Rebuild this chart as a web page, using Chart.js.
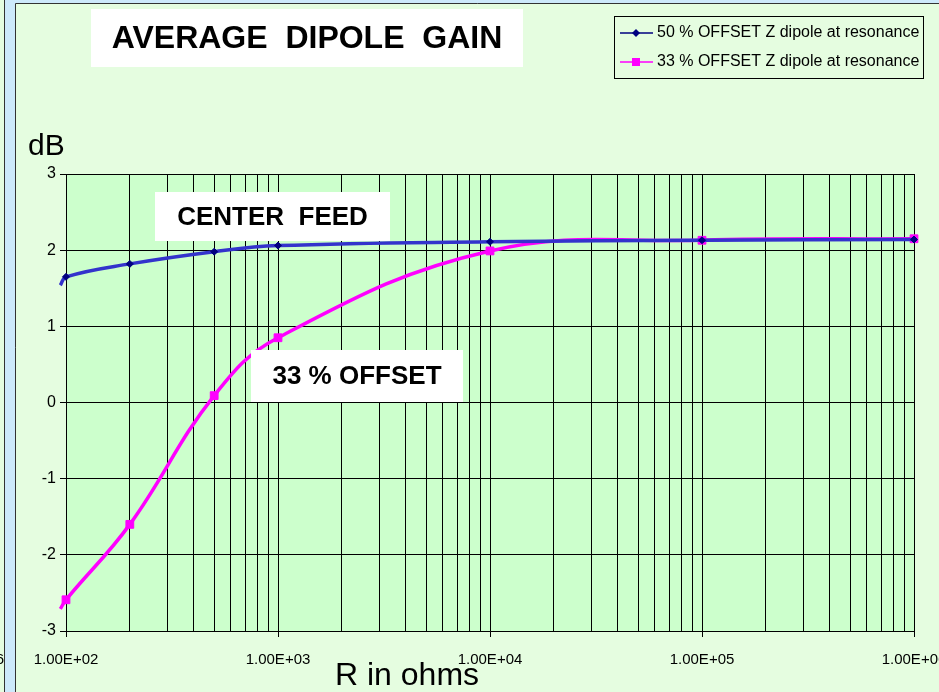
<!DOCTYPE html>
<html>
<head>
<meta charset="utf-8">
<script src="https://cdn.jsdelivr.net/npm/chart.js@4.4.1/dist/chart.umd.min.js"></script>
<style>
    html, body { margin: 0; padding: 0; background: #cde9fb; }
    #wrap { position: relative; width: 939px; height: 692px; }
</style>
</head>
<body>
<div id="wrap"><canvas id="gain" width="939" height="692"></canvas></div>
<script>
// R in ohms (first value sits just left of the axis, as in the original sheet)
const resistance = [94, 100, 200, 500, 1000, 10000, 100000, 1000000];
const offset50 = [1.54, 1.65, 1.82, 1.98, 2.06, 2.11, 2.13, 2.14];
const offset33 = [-2.71, -2.59, -1.60, 0.09, 0.85, 1.99, 2.13, 2.15];
const seriesNames = [
    '50 % OFFSET Z dipole at resonance',
    '33 % OFFSET Z dipole at resonance'
];
const yTicks = [-3, -2, -1, 0, 1, 2, 3];
const xDecades = [100, 1000, 10000, 100000, 1000000];

const X_MIN = 100, X_MAX = 1000000;
const FONT = '"Liberation Sans", Arial, sans-serif';

const toPoints = (ys) => resistance.map((r, i) => ({ x: r, y: ys[i] }));

function expLabel(v) {
    const e = Math.round(Math.log10(v));
    return '1.00E+' + String(e).padStart(2, '0');
}

function textBox(ctx, text, x, y, w, h, font) {
    ctx.fillStyle = '#ffffff';
    ctx.fillRect(x, y, w, h);
    ctx.fillStyle = '#000000';
    ctx.font = font;
    ctx.textAlign = 'center';
    ctx.textBaseline = 'middle';
    ctx.fillText(text, x + w / 2, y + h / 2 + 1);
}

// frame, plot background and free-floating texts
const decorPlugin = {
    id: 'decor',
    beforeDraw(chart) {
        const { ctx, chartArea: a } = chart;
        ctx.save();
        ctx.fillStyle = '#cde9fb';
        ctx.fillRect(0, 0, 939, 692);
        // neighbouring chart sliver
        ctx.fillStyle = '#e5fde0';
        ctx.fillRect(0, 0, 4, 692);
        ctx.save();
        ctx.beginPath();
        ctx.rect(0, 0, 4, 692);
        ctx.clip();
        ctx.fillStyle = '#000';
        ctx.font = '15px ' + FONT;
        ctx.textAlign = 'right';
        ctx.textBaseline = 'middle';
        ctx.fillText('1.00E+06', 4, 660);
        ctx.restore();
        ctx.strokeStyle = '#333333';
        ctx.lineWidth = 1;
        ctx.beginPath();
        ctx.moveTo(4.5, 0); ctx.lineTo(4.5, 692);
        ctx.stroke();
        // this chart's area
        ctx.fillStyle = '#e5fde0';
        ctx.fillRect(16, 4, 923, 688);
        ctx.beginPath();
        ctx.moveTo(15.5, 692); ctx.lineTo(15.5, 3.5); ctx.lineTo(939, 3.5);
        ctx.stroke();
        // plot area
        ctx.fillStyle = '#ccffcc';
        ctx.fillRect(a.left, a.top, a.right - a.left, a.bottom - a.top);
        ctx.restore();
    },
    afterDraw(chart) {
        const { ctx } = chart;
        ctx.save();
        textBox(ctx, 'AVERAGE  DIPOLE  GAIN', 91, 9, 432, 58, 'bold 32px ' + FONT);
        textBox(ctx, 'CENTER  FEED', 155, 192, 235, 49, 'bold 26px ' + FONT);
        textBox(ctx, '33 % OFFSET', 251, 350, 212, 52, 'bold 26px ' + FONT);

        ctx.fillStyle = '#000';
        ctx.textAlign = 'left';
        ctx.textBaseline = 'alphabetic';
        ctx.font = '30px ' + FONT;
        ctx.fillText('dB', 28, 155);
        ctx.font = '32px ' + FONT;
        ctx.fillText('R in ohms', 335, 685);

        // legend
        const lx = 614, ly = 16, lw = 309, lh = 62;
        ctx.fillStyle = '#e5fde0';
        ctx.fillRect(lx, ly, lw, lh);
        ctx.strokeStyle = '#000';
        ctx.lineWidth = 1;
        ctx.strokeRect(lx + 0.5, ly + 0.5, lw, lh);
        chart.data.datasets.forEach((ds, i) => {
            const cy = ly + 17 + i * 29;
            ctx.strokeStyle = ds.legendLine;
            ctx.lineWidth = 1.5;
            ctx.beginPath();
            ctx.moveTo(620, cy); ctx.lineTo(653, cy);
            ctx.stroke();
            ctx.fillStyle = ds.pointBackgroundColor;
            ctx.beginPath();
            if (ds.pointStyle === 'rectRot') {
                ctx.moveTo(636, cy - 4); ctx.lineTo(640, cy); ctx.lineTo(636, cy + 4); ctx.lineTo(632, cy);
            } else {
                ctx.rect(632, cy - 4, 8, 8);
            }
            ctx.fill();
            ctx.fillStyle = '#000';
            ctx.font = '16px ' + FONT;
            ctx.textAlign = 'left';
            ctx.textBaseline = 'middle';
            ctx.fillText(ds.label, 657, cy);
        });
        ctx.restore();
    }
};

const chart = new Chart(document.getElementById('gain'), {
    type: 'scatter',
    data: {
        datasets: [
            {
                label: seriesNames[0],
                data: toPoints(offset50),
                showLine: true,
                borderColor: '#3333cc',
                legendLine: '#000080',
                borderWidth: 3.5,
                tension: 0.4,
                pointStyle: 'rectRot',
                pointBackgroundColor: '#000080',
                pointBorderColor: '#000080',
                pointBorderWidth: 1,
                pointRadius: (c) => (c.raw && c.raw.x < X_MIN ? 0 : 3.5),
                clip: false
            },
            {
                label: seriesNames[1],
                data: toPoints(offset33),
                showLine: true,
                borderColor: '#ff00ff',
                legendLine: '#ff00ff',
                borderWidth: 3.5,
                tension: 0.4,
                pointStyle: 'rect',
                pointBackgroundColor: '#ff00ff',
                pointBorderColor: '#ff00ff',
                pointBorderWidth: 1,
                pointRadius: (c) => (c.raw && c.raw.x < X_MIN ? 0 : 5.5),
                clip: false
            }
        ]
    },
    options: {
        responsive: false,
        animation: false,
        layout: { padding: { left: 0, right: 25, top: 174, bottom: 0 } },
        plugins: {
            legend: { display: false },
            tooltip: { enabled: false }
        },
        scales: {
            x: {
                type: 'logarithmic',
                min: X_MIN,
                max: X_MAX,
                afterBuildTicks: (scale) => {
                    const ticks = [];
                    xDecades.forEach((d, i) => {
                        const top = i === xDecades.length - 1 ? 1 : 9;
                        for (let k = 1; k <= top; k++) ticks.push({ value: d * k });
                    });
                    scale.ticks = ticks;
                },
                afterFit: (scale) => {
                    scale.paddingLeft = 0;
                    scale.paddingRight = 0;
                    scale.height = 61;
                },
                grid: {
                    color: '#000',
                    lineWidth: 1,
                    tickLength: 6,
                    tickColor: (c) => (c.tick && xDecades.includes(c.tick.value) ? '#000' : 'rgba(0,0,0,0)')
                },
                border: { color: '#000', width: 1 },
                ticks: {
                    autoSkip: false,
                    maxRotation: 0,
                    padding: 14,
                    color: '#000',
                    font: { family: FONT, size: 15 },
                    callback: (v) => (xDecades.includes(v) ? expLabel(v) : '')
                }
            },
            y: {
                min: -3,
                max: 3,
                afterBuildTicks: (scale) => {
                    scale.ticks = yTicks.map((v) => ({ value: v }));
                },
                afterFit: (scale) => {
                    scale.width = 66;
                },
                grid: { color: '#000', lineWidth: 1, tickLength: 6 },
                border: { color: '#000', width: 1 },
                ticks: {
                    padding: 4,
                    color: '#000',
                    font: { family: FONT, size: 16 }
                }
            }
        }
    },
    plugins: [decorPlugin]
});
</script>
</body>
</html>
